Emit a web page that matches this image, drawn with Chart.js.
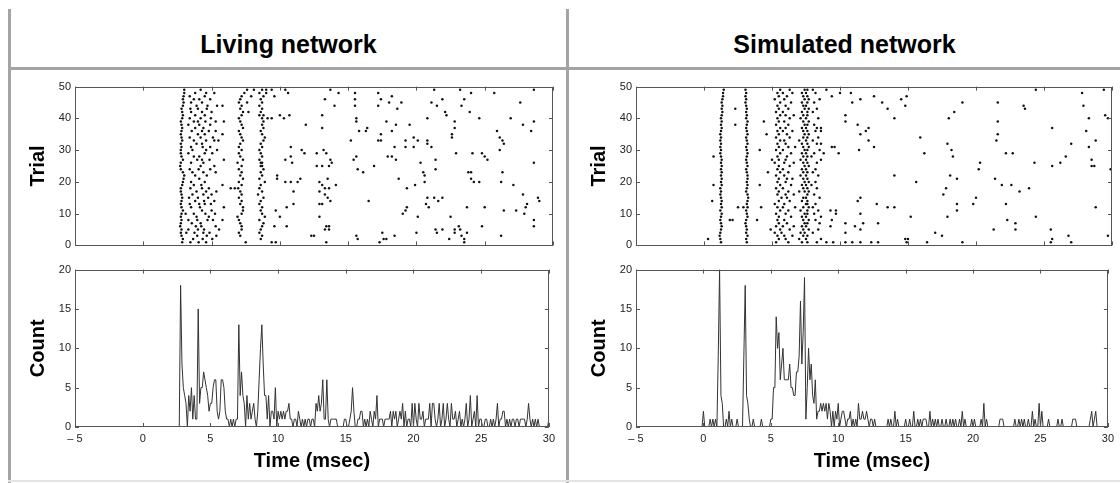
<!DOCTYPE html>
<html>
<head>
<meta charset="utf-8">
<script src="https://cdn.jsdelivr.net/npm/chart.js@4.4.0/dist/chart.umd.min.js"></script>
<style>
  body { margin: 0; background: #fff; font-family: 'Liberation Sans', Arial, Helvetica, sans-serif; }
  #page { position: relative; width: 1120px; height: 483px; overflow: hidden; background: #fff; }
  .rule { position: absolute; background: #a4a4a4; }
  .head { position: absolute; top: 30px; font-weight: bold; font-size: 25px; text-align: center; color: #000; }
  canvas { position: absolute; }
</style>
</head>
<body>
<div id="page">
  <div class="rule" style="left:8px;top:9px;width:3px;height:474px"></div>
  <div class="rule" style="left:566px;top:9px;width:3px;height:474px"></div>
  <div class="rule" style="left:8px;top:67px;width:1112px;height:3px"></div>
  <div class="rule" style="left:8px;top:480px;width:1112px;height:2px;background:#e4e4e4"></div>
  <div class="head" style="left:11px;width:555px">Living network</div>
  <div class="head" style="left:569px;width:551px">Simulated network</div>
  <canvas id="liveRaster" width="534" height="180" style="left:26px;top:76px"></canvas>
  <canvas id="liveHist" width="534" height="214" style="left:26px;top:259px"></canvas>
  <canvas id="simRaster" width="532" height="180" style="left:587px;top:76px"></canvas>
  <canvas id="simHist" width="532" height="214" style="left:587px;top:259px"></canvas>
</div>
<script>
// spike times (msec), one row per trial, trial 1 first
const livingTrials = [
  [2.85, 3.45, 4.05, 4.6, 7.5, 9.4, 9.7, 13.4, 17.3, 23.5],
  [2.9, 3.65, 4.35, 5.05, 8.6, 15.7, 17.6, 17.8, 22.4, 23.5],
  [2.8, 3.95, 4.65, 5.35, 7.1, 8.7, 12.3, 12.5, 15.6, 18.4, 23.3, 26.2],
  [2.75, 3.15, 3.75, 4.4, 4.85, 7.0, 8.5, 17.5, 20.0, 21.5, 22.8, 23.7],
  [2.8, 3.3, 4.0, 4.45, 5.55, 7.2, 8.6, 13.3, 13.6, 21.4, 21.9, 22.8, 23.2],
  [2.7, 3.85, 4.25, 5.3, 7.2, 8.7, 9.6, 10.5, 13.4, 13.6, 23.1, 24.8, 28.6],
  [2.75, 3.55, 4.2, 7.1, 8.8],
  [2.8, 3.3, 3.95, 4.7, 5.1, 5.8, 7.0, 8.5, 28.6],
  [2.75, 3.9, 4.8, 6.9, 8.9, 10.0, 12.9, 20.1, 22.5],
  [2.8, 3.1, 3.7, 4.55, 5.25, 7.2, 8.7, 19.0, 27.9],
  [2.9, 4.3, 5.0, 7.3, 8.6, 9.7, 19.2, 26.4, 27.3],
  [2.8, 3.5, 4.15, 5.9, 7.3, 8.7, 10.5, 19.3, 20.9, 23.7, 25.0, 28.0],
  [2.75, 3.4, 4.1, 4.5, 4.95, 7.1, 8.5, 11.0, 12.9, 13.1, 20.7, 28.1],
  [2.8, 3.8, 4.45, 5.2, 7.2, 8.6, 13.7, 16.5, 21.6, 29.0],
  [2.85, 3.35, 4.0, 4.75, 7.0, 8.8, 13.5, 20.8, 21.3, 21.9, 28.9],
  [2.8, 3.6, 4.4, 5.0, 7.2, 8.4, 13.3, 27.8],
  [2.75, 3.9, 4.6, 5.35, 7.1, 8.7, 11.0, 12.9],
  [2.75, 3.45, 4.3, 4.8, 6.4, 6.7, 6.95, 8.5, 13.3, 13.6, 19.3],
  [2.85, 3.7, 4.25, 5.8, 7.2, 8.6, 13.1, 14.1, 19.9, 27.1],
  [2.9, 3.5, 4.5, 7.0, 8.9, 10.4, 10.8, 11.3, 12.9, 20.6, 24.2, 24.6, 26.2],
  [2.95, 4.1, 7.3, 8.5, 9.8, 11.5, 13.5, 18.7, 24.0],
  [3.0, 3.8, 4.65, 7.1, 8.7, 9.8, 20.6],
  [2.9, 3.6, 4.4, 5.3, 7.2, 8.6, 16.1, 20.5, 23.8, 24.0, 26.3],
  [2.75, 3.4, 4.05, 4.9, 7.0, 8.8, 15.7, 21.4],
  [2.7, 4.2, 5.2, 7.2, 8.6, 8.7, 12.7, 13.1, 13.6, 16.9],
  [2.75, 3.5, 4.4, 6.9, 8.6, 8.7, 10.9, 13.8, 20.3, 28.6],
  [2.9, 3.95, 4.3, 4.85, 5.9, 7.3, 8.5, 10.4, 13.7, 15.4, 18.5, 21.4, 25.2],
  [2.8, 3.7, 4.1, 7.1, 8.7, 10.8, 15.6, 17.9, 18.2, 25.0],
  [2.75, 3.3, 4.5, 5.05, 7.0, 8.6, 11.8, 12.7, 13.4, 22.9, 24.1, 24.8],
  [2.75, 3.6, 4.6, 5.4, 7.2, 8.5, 11.6, 13.2, 26.1],
  [2.8, 3.5, 4.35, 4.9, 7.0, 8.7, 10.8, 18.4, 19.2, 19.8, 21.1],
  [2.75, 3.9, 4.3, 7.1, 8.6, 20.8, 26.4],
  [2.85, 3.7, 4.6, 5.2, 5.5, 7.3, 8.8, 15.2, 17.2, 17.4, 19.2, 20.1, 20.8, 26.3],
  [2.8, 3.4, 4.2, 5.1, 7.2, 8.9, 19.8, 22.6, 26.1],
  [2.75, 4.0, 4.5, 5.8, 7.1, 8.7, 17.4, 22.6],
  [2.8, 3.55, 4.3, 4.8, 5.3, 7.0, 8.6, 15.8, 16.3, 18.2, 25.9, 28.4],
  [2.85, 3.8, 4.4, 7.3, 8.8, 13.1, 16.4, 22.8],
  [2.8, 3.3, 4.1, 4.9, 7.2, 8.7, 11.9, 18.5, 19.5, 27.8],
  [2.75, 3.7, 4.0, 4.55, 5.3, 5.9, 7.1, 8.8, 15.6, 17.8, 22.8, 28.6],
  [2.85, 3.4, 4.2, 4.95, 7.0, 8.7, 9.1, 9.4, 10.3, 15.6, 20.8, 24.6, 26.9],
  [2.9, 3.8, 4.5, 7.2, 8.5, 8.8, 10.0, 10.7, 13.1, 22.2],
  [2.85, 3.5, 4.3, 5.0, 7.3, 7.7, 8.6, 22.1, 23.9],
  [2.8, 3.45, 4.0, 4.65, 7.1, 8.7, 18.6],
  [2.9, 3.9, 4.7, 5.4, 5.8, 7.2, 8.5, 14.0, 15.5, 17.2, 21.5, 23.3],
  [2.95, 3.5, 4.3, 7.0, 7.6, 8.7, 18.0, 18.9, 21.1, 27.6],
  [2.9, 3.7, 4.1, 4.9, 7.1, 8.6, 13.3, 15.5, 17.4, 21.9, 23.5],
  [2.95, 3.4, 4.5, 7.2, 7.9, 8.8, 9.6, 18.2],
  [3.0, 3.8, 4.6, 5.2, 7.4, 8.5, 9.0, 10.6, 14.3, 15.5, 17.2, 24.0, 25.7],
  [3.0, 4.2, 7.6, 8.1, 8.7, 9.0, 9.4, 10.4, 13.7, 21.3, 23.2, 28.6]
];

const simulatedTrials = [
  [1.25, 3.15, 5.3, 6.2, 7.2, 7.6, 8.3, 9.0, 9.5, 10.4, 10.9, 11.5, 12.3, 12.8, 14.9, 16.4, 19.0, 25.5, 27.0],
  [0.3, 1.2, 3.1, 5.5, 6.0, 7.0, 7.5, 8.6, 14.8, 15.0, 25.6],
  [1.15, 3.2, 5.4, 5.9, 6.5, 7.3, 7.6, 17.5, 26.8, 29.7],
  [1.2, 3.1, 5.2, 5.7, 7.1, 7.4, 8.0, 10.4, 17.0],
  [1.25, 3.15, 4.9, 5.6, 6.3, 7.3, 7.7, 8.4, 11.5, 21.3, 22.9, 25.5],
  [1.3, 3.1, 5.3, 5.8, 6.6, 7.2, 7.5, 9.3, 11.1],
  [1.25, 3.05, 5.5, 6.1, 7.4, 7.6, 8.5, 10.4, 11.7, 12.8, 22.9],
  [1.2, 1.9, 2.1, 3.1, 3.9, 5.4, 5.9, 7.3, 7.7, 8.2, 9.4, 22.3],
  [1.25, 3.2, 5.5, 6.4, 7.2, 7.5, 8.6, 15.2, 17.9, 24.4],
  [1.3, 3.15, 5.3, 6.0, 7.4, 7.6, 8.1, 9.7, 11.5],
  [1.2, 3.1, 5.6, 6.2, 7.1, 7.6, 8.4, 9.3, 9.7, 18.6],
  [1.3, 2.5, 2.9, 3.2, 4.2, 5.4, 5.8, 6.7, 7.3, 7.7, 8.0, 13.5, 14.0, 28.8],
  [1.25, 3.15, 5.2, 5.9, 7.5, 7.6, 8.2, 12.7, 18.6, 19.8, 22.2],
  [0.6, 1.3, 3.2, 5.5, 6.3, 7.2, 7.6, 11.3],
  [1.25, 3.25, 5.7, 6.1, 7.3, 7.5, 8.5, 11.5, 20.0],
  [1.2, 3.2, 5.4, 6.0, 6.6, 7.6, 8.1, 17.6],
  [1.25, 3.1, 5.5, 6.2, 7.0, 7.4, 7.7, 23.2],
  [1.2, 3.15, 5.3, 5.8, 7.3, 7.6, 8.3, 17.8, 23.9],
  [0.7, 1.3, 3.2, 4.1, 5.6, 6.4, 7.2, 7.5, 7.9, 21.9, 22.6],
  [1.25, 3.15, 5.4, 6.0, 7.4, 7.7, 8.2, 15.6],
  [1.3, 3.2, 5.5, 6.1, 6.5, 7.3, 7.6, 18.6, 21.4],
  [1.25, 3.2, 5.3, 5.9, 7.1, 7.5, 8.4, 14.0, 18.1],
  [1.3, 3.15, 4.7, 5.6, 6.2, 7.3, 7.6, 8.0],
  [1.25, 3.1, 5.4, 5.8, 7.2, 7.5, 8.2, 20.2, 29.9],
  [1.3, 3.2, 5.5, 6.3, 7.4, 7.7, 25.6, 28.5, 28.7],
  [1.25, 3.15, 5.2, 5.9, 6.6, 7.3, 7.6, 8.3, 20.3, 24.3, 26.2],
  [1.3, 3.1, 5.0, 5.5, 6.0, 7.1, 7.5, 8.6, 28.5],
  [0.7, 1.25, 3.15, 5.4, 6.1, 7.3, 7.6, 7.9, 18.3, 26.6],
  [1.2, 3.2, 5.6, 6.4, 7.2, 7.5, 8.1, 8.8, 9.9, 16.2, 22.2, 22.7],
  [1.25, 3.15, 4.1, 5.3, 5.8, 7.4, 7.6, 8.5, 11.4, 18.2],
  [1.2, 3.1, 5.5, 6.2, 6.7, 7.3, 7.7, 9.4, 9.6, 12.5, 28.3],
  [1.25, 3.2, 5.4, 6.0, 7.2, 7.6, 8.3, 8.6, 17.9, 27.0],
  [1.2, 3.15, 5.6, 5.9, 7.0, 7.5, 8.0, 12.1, 21.5, 28.8],
  [1.25, 3.1, 5.3, 6.3, 7.3, 7.6, 8.4, 15.9],
  [1.2, 3.2, 4.6, 5.5, 6.1, 7.4, 7.7, 11.5, 21.6],
  [1.25, 3.15, 5.4, 5.8, 6.5, 7.3, 7.6, 8.2, 8.6, 11.9, 28.1],
  [1.3, 3.1, 5.6, 6.0, 7.2, 7.5, 8.3, 8.6, 12.1, 25.6],
  [1.25, 2.3, 3.15, 5.3, 6.2, 7.4, 7.6, 8.1, 11.3],
  [1.3, 3.2, 4.4, 5.5, 5.9, 7.3, 7.7, 10.4, 21.6],
  [1.25, 3.1, 5.4, 6.3, 7.1, 7.5, 8.4, 14.0, 18.0, 28.3, 29.7],
  [1.3, 3.15, 5.6, 6.0, 6.6, 7.3, 7.6, 10.4, 29.5],
  [1.35, 3.1, 5.3, 5.8, 7.2, 7.6, 8.0, 18.4],
  [1.3, 2.3, 3.15, 5.5, 6.2, 7.4, 7.7, 8.3, 13.5, 23.6],
  [1.35, 3.1, 5.4, 6.0, 7.3, 7.5, 14.8, 23.5, 27.9],
  [1.3, 3.05, 5.6, 6.4, 7.2, 7.6, 8.1, 10.9, 13.1, 19.0, 21.6],
  [1.35, 3.1, 5.2, 5.9, 7.4, 7.7, 8.5, 11.5, 14.5],
  [1.4, 3.05, 5.5, 6.1, 7.3, 7.6, 9.4, 12.5, 14.9],
  [1.4, 3.1, 5.4, 5.8, 6.5, 7.2, 7.5, 8.2, 10.0, 10.8, 27.8],
  [1.45, 3.05, 5.6, 6.3, 7.4, 7.6, 8.0, 9.0, 24.4, 29.4]
];

// spike counts per 0.1 msec bin
const binWidth = 0.1;
const livingStart = 2.0;
const livingCounts = [
  0, 0, 0, 0, 0, 0, 0, 0, 18, 8,
  5, 4, 3, 0, 4, 2, 5, 1, 4, 1,
  1, 15, 3, 5, 5, 7, 6, 5, 4, 2,
  3, 3, 5, 6, 6, 2, 1, 2, 6, 6,
  5, 2, 1, 1, 0, 1, 0, 1, 0, 1,
  1, 13, 4, 7, 4, 3, 0, 4, 1, 3,
  1, 2, 3, 1, 0, 2, 6, 10, 13, 8,
  4, 4, 1, 4, 0, 2, 2, 1, 5, 0,
  2, 1, 2, 1, 2, 1, 2, 2, 3, 1,
  1, 0, 1, 1, 0, 2, 1, 0, 1, 0,
  1, 0, 1, 1, 0, 1, 1, 0, 3, 2,
  4, 2, 3, 6, 1, 1, 6, 1, 0, 1,
  1, 1, 1, 1, 0, 0, 0, 0, 0, 1,
  1, 0, 0, 1, 2, 5, 2, 0, 0, 1,
  1, 2, 2, 0, 1, 0, 1, 0, 2, 1,
  0, 2, 1, 4, 0, 1, 1, 1, 0, 1,
  1, 1, 1, 2, 0, 2, 1, 2, 0, 1,
  2, 1, 3, 0, 2, 0, 1, 1, 0, 3,
  0, 3, 1, 0, 3, 1, 1, 2, 0, 1,
  1, 1, 3, 0, 3, 3, 1, 0, 1, 3,
  0, 1, 3, 0, 1, 3, 1, 0, 3, 1,
  1, 2, 0, 1, 2, 0, 1, 0, 1, 3,
  0, 1, 4, 0, 1, 2, 0, 4, 0, 1,
  1, 0, 0, 1, 1, 0, 0, 1, 0, 1,
  0, 1, 3, 0, 1, 1, 2, 2, 0, 1,
  0, 1, 0, 1, 1, 0, 1, 1, 0, 1,
  1, 1, 1, 0, 1, 3, 1, 0, 1, 0,
  1, 0, 1, 0, 0, 0, 0, 0, 0, 0,
  1
];

const simulatedStart = -0.1;
const simulatedCounts = [
  0,
  2, 0, 0, 0, 0, 1, 0, 1, 0, 1,
  0, 9, 20, 4, 3, 0, 0, 1, 0, 2,
  0, 1, 0, 0, 0, 1, 0, 0, 0, 0,
  9, 18, 4, 3, 1, 0, 0, 1, 0, 0,
  0, 0, 0, 1, 0, 0, 0, 0, 0, 0,
  1, 1, 5, 5, 14, 10, 12, 6, 8, 10,
  6, 6, 6, 6, 8, 5, 5, 4, 4, 7,
  7, 9, 16, 8, 12, 19, 1, 5, 10, 6,
  8, 4, 3, 6, 1, 2, 2, 3, 2, 3,
  2, 3, 1, 3, 2, 0, 2, 0, 2, 1,
  3, 0, 1, 2, 2, 1, 0, 1, 1, 2,
  0, 1, 0, 1, 0, 3, 1, 1, 2, 1,
  1, 2, 1, 0, 1, 1, 0, 1, 0, 0,
  0, 0, 0, 0, 0, 0, 0, 1, 0, 1,
  0, 0, 2, 0, 1, 0, 0, 0, 0, 0,
  1, 0, 0, 1, 0, 0, 2, 0, 0, 1,
  0, 1, 0, 1, 1, 1, 0, 0, 2, 0,
  1, 0, 1, 0, 1, 0, 0, 1, 0, 0,
  1, 0, 0, 1, 0, 1, 0, 1, 0, 0,
  1, 0, 2, 0, 1, 0, 0, 0, 0, 1,
  0, 1, 0, 0, 0, 0, 1, 0, 3, 0,
  1, 0, 0, 0, 0, 0, 0, 0, 0, 0,
  1, 1, 1, 0, 0, 0, 0, 0, 0, 0,
  0, 1, 0, 0, 1, 0, 1, 0, 1, 0,
  0, 1, 0, 0, 2, 0, 1, 0, 0, 3,
  0, 2, 0, 0, 0, 0, 1, 0, 0, 0,
  0, 0, 0, 1, 0, 0, 1, 0, 0, 0,
  0, 0, 0, 0, 1, 1, 1, 0, 0, 0,
  0, 0, 0, 0, 0, 0, 0, 1, 2, 0,
  1, 2, 0, 0
];

const timeRange = [-5, 30];
const trialMax = 50;
const countMax = 20;

Chart.defaults.font.family = "'Liberation Sans', Arial, Helvetica, sans-serif";
Chart.defaults.color = '#222';
Chart.defaults.animation = false;

// frame + inward ticks on all four sides, matlab style
const boxTicks = {
  id: 'boxTicks',
  afterDraw(chart) {
    const { ctx, chartArea: a, scales: { x, y } } = chart;
    ctx.save();
    ctx.strokeStyle = '#555';
    ctx.lineWidth = 1;
    ctx.beginPath();
    x.ticks.forEach((t) => {
      const px = Math.round(x.getPixelForValue(t.value)) + 0.5;
      ctx.moveTo(px, a.bottom); ctx.lineTo(px, a.bottom - 4);
      ctx.moveTo(px, a.top); ctx.lineTo(px, a.top + 4);
    });
    y.ticks.forEach((t) => {
      const py = Math.round(y.getPixelForValue(t.value)) + 0.5;
      ctx.moveTo(a.left, py); ctx.lineTo(a.left + 4, py);
      ctx.moveTo(a.right, py); ctx.lineTo(a.right - 4, py);
    });
    ctx.stroke();
    ctx.strokeRect(Math.round(a.left) + 0.5, Math.round(a.top) + 0.5,
      Math.round(a.width) - 1, Math.round(a.height) - 1);
    ctx.restore();
  },
};

const getScales = (yTitle, yMax, yStep, withTime) => ({
  x: {
    type: 'linear',
    min: timeRange[0],
    max: timeRange[1],
    ticks: {
      display: withTime,
      stepSize: 5,
      padding: 5,
      maxRotation: 0,
      font: { size: 11 },
      callback: (v) => (v < 0 ? '\u2013 ' + Math.abs(v) : v),
    },
    grid: { display: false, drawTicks: false },
    border: { display: false },
    title: {
      display: withTime,
      text: 'Time (msec)',
      color: '#000',
      padding: 0,
      font: { size: 20, weight: 'bold' },
    },
    afterFit: (s) => { s.height = withTime ? 46 : 10; },
  },
  y: {
    min: 0,
    max: yMax,
    ticks: { stepSize: yStep, padding: 4, font: { size: 11 } },
    grid: { display: false, drawTicks: false },
    border: { display: false },
    title: {
      display: true,
      text: yTitle,
      color: '#000',
      padding: 0,
      font: { size: 20, weight: 'bold' },
    },
    afterFit: (s) => { s.width = 49; },
  },
});

const baseOptions = (scales, rightPad) => ({
  responsive: false,
  layout: { padding: { top: 10, right: rightPad, left: 0, bottom: 0 } },
  plugins: { legend: { display: false }, tooltip: { enabled: false } },
  scales,
});

const makeRaster = (id, trials, rightPad) => {
  const points = trials.flatMap((row, i) => row.map((t) => ({ x: t, y: i + 1 })));
  new Chart(document.getElementById(id), {
    type: 'scatter',
    data: {
      datasets: [{
        data: points,
        pointRadius: 1.25,
        pointBorderWidth: 0,
        pointBackgroundColor: '#111',
      }],
    },
    options: baseOptions(getScales('Trial', trialMax, 10, false), rightPad),
    plugins: [boxTicks],
  });
};

const makeHist = (id, start, counts, rightPad) => {
  const points = counts.map((c, i) => ({ x: +(start + i * binWidth).toFixed(2), y: c }));
  new Chart(document.getElementById(id), {
    type: 'line',
    data: {
      datasets: [{
        data: points,
        borderColor: '#333',
        borderWidth: 1,
        pointRadius: 0,
        tension: 0,
        fill: false,
      }],
    },
    options: baseOptions(getScales('Count', countMax, 5, true), rightPad),
    plugins: [boxTicks],
  });
};

makeRaster('liveRaster', livingTrials, 7);
makeHist('liveHist', livingStart, livingCounts, 7);
makeRaster('simRaster', simulatedTrials, 7);
makeHist('simHist', simulatedStart, simulatedCounts, 7);
</script>
</body>
</html>
